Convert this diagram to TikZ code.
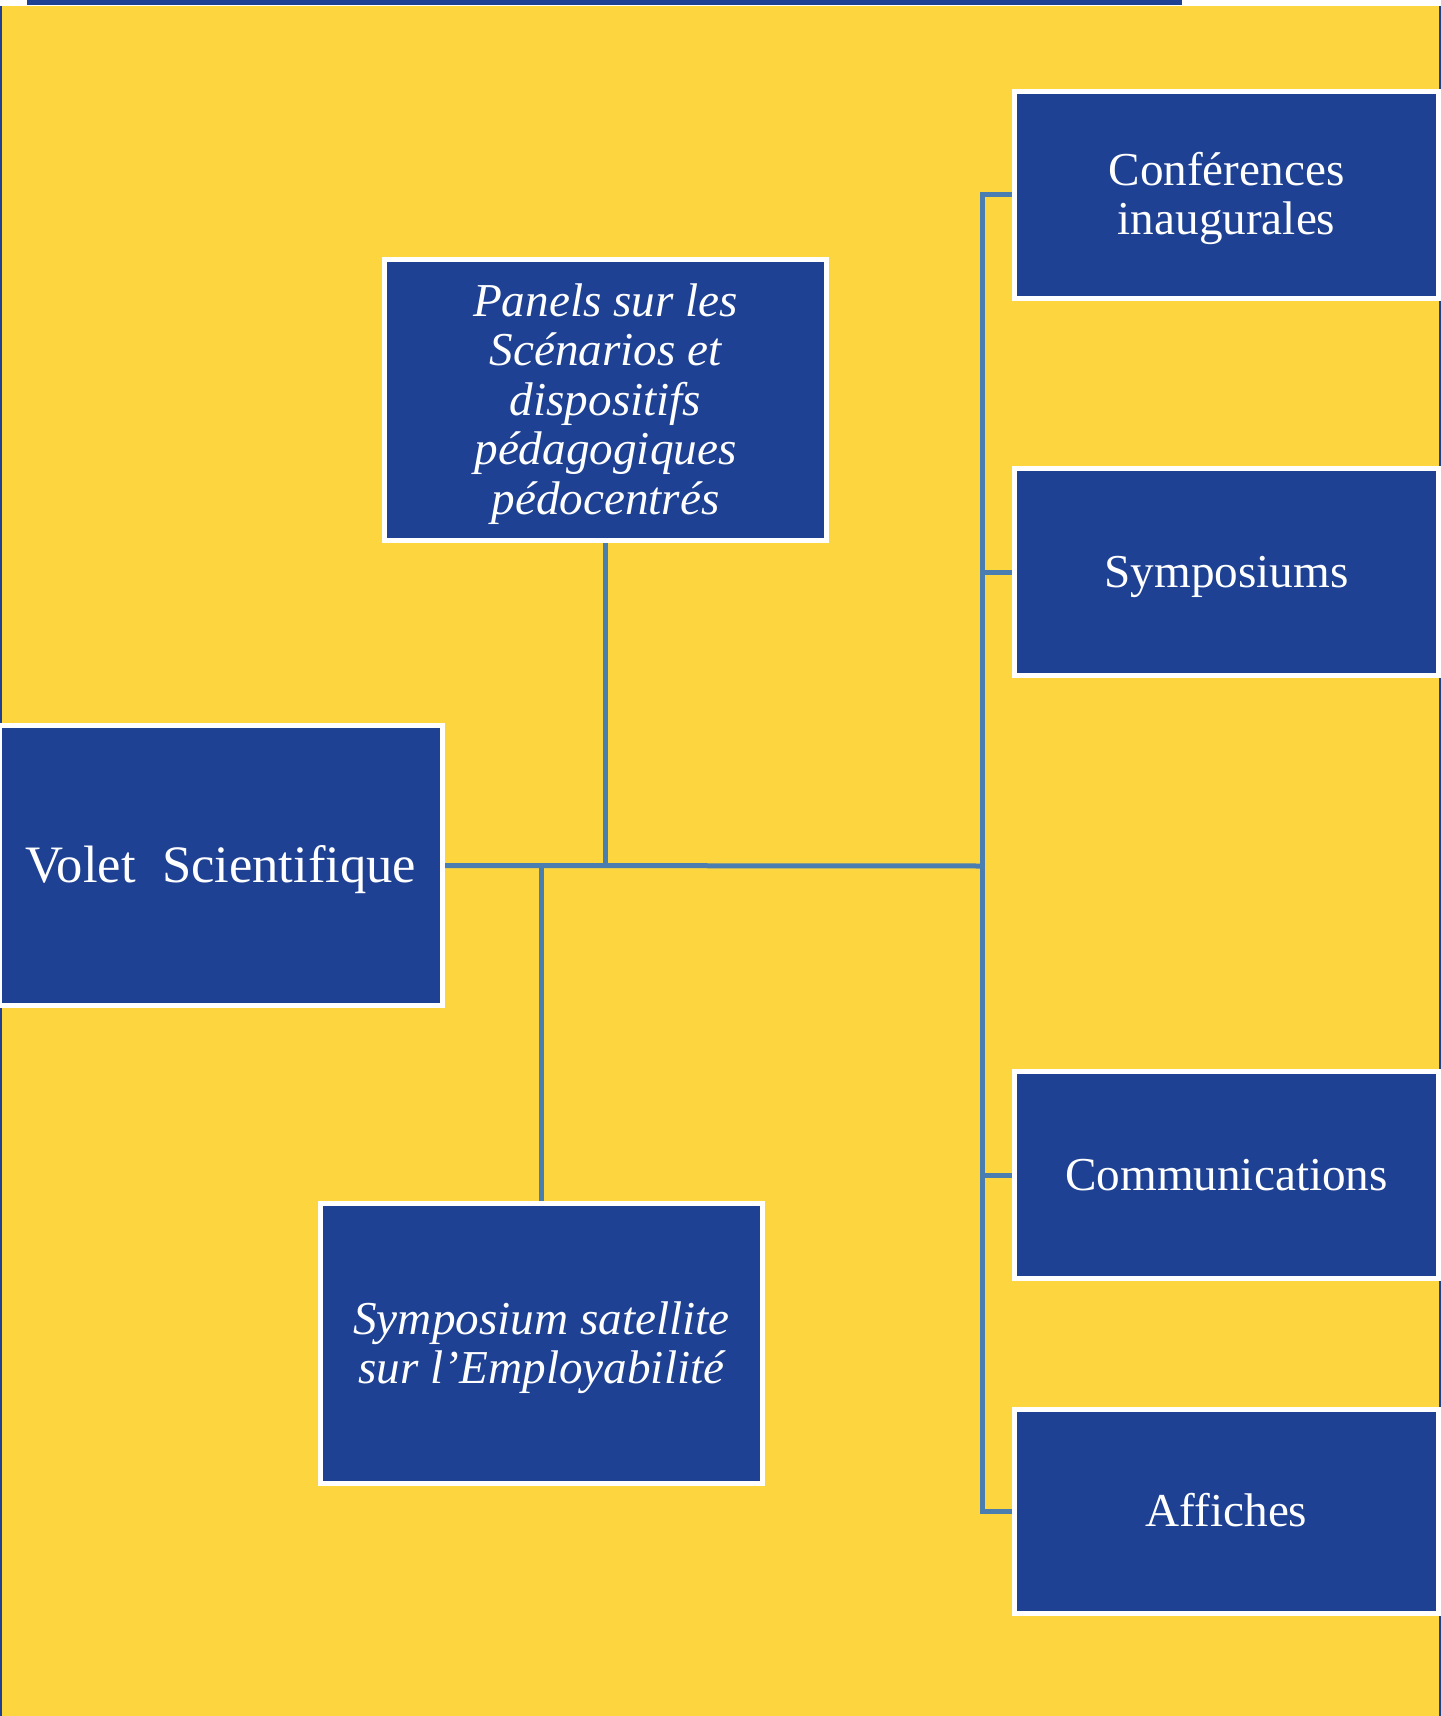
\documentclass[tikz,border=0pt]{standalone}
\usepackage{fontspec}
\setmainfont{Liberation Serif}
\usetikzlibrary{backgrounds}
\definecolor{bgyellow}{HTML}{FCD53F}
\definecolor{boxblue}{HTML}{1E4194}
\definecolor{linkblue}{HTML}{4A7EB0}
\newcommand\mytop{\rule{0pt}{22pt}}
\newcommand\mybot{\rule[-6.5pt]{0pt}{6.5pt}}
\begin{document}
\begin{tikzpicture}[x=0.5pt,y=-0.5pt,
  bx/.style={draw=white,line width=2.5pt,fill=boxblue,text=white,align=center,
    inner sep=0pt,font=\fontsize{23.6}{24.5}\selectfont},
  itbx/.style={bx,font=\fontsize{23.6}{24.75}\selectfont\itshape},
  rbx/.style={bx,minimum width=212pt,minimum height=103.5pt},
  conn/.style={draw=linkblue,line width=2.5pt}]
\useasboundingbox (0,0) rectangle (1440,1716);
% boxes
\node[bx,minimum width=221.5pt,minimum height=140pt,font=\fontsize{26.3}{27}\selectfont] (volet) at (221,865.5)
  {\rule{0pt}{23pt}Volet\ \ Scientifique\rule[-6.5pt]{0pt}{6.5pt}};
\node[itbx,minimum width=221pt,minimum height=140.5pt] (panels) at (605.5,400)
  {\mytop Panels sur les\\Scénarios et\\dispositifs\\pédagogiques\\pédocentrés\mybot};
\node[itbx,minimum width=221pt,minimum height=140pt] (sat) at (541.5,1343.5)
  {\mytop Symposium satellite\\sur l’Employabilité\mybot};
\node[rbx] (conf) at (1226.5,195) {\mytop Conférences\\inaugurales\mybot};
\node[rbx] (symp) at (1226.5,572) {\mytop Symposiums\mybot};
\node[rbx] (comm) at (1226.5,1175) {\mytop Communications\mybot};
\node[rbx,minimum height=102pt] (aff) at (1226.5,1511) {\mytop Affiches\mybot};
\coordinate (tr) at (982,866);
\begin{scope}[on background layer]
  \fill[white] (0,0) rectangle (1440,1716);
  \fill[bgyellow] (0,6.5) rectangle (1440,1716);
  \fill[boxblue] (27,0) rectangle (1182,5.5);
  \draw[boxblue,line width=1pt] (0.5,6) -- (0.5,1716);
  \draw[boxblue,line width=1pt] (1439.5,6) -- (1439.5,1716);
  \draw[conn] (volet.east) -- (tr);
  \draw[conn] (panels.south) -- (panels.south |- tr);
  \draw[conn] (sat.north) -- (sat.north |- tr);
  \draw[conn] (conf.west) -- (conf.west -| tr) -- (aff.west -| tr) -- (aff.west);
  \draw[conn] (symp.west) -- (symp.west -| tr);
  \draw[conn] (comm.west) -- (comm.west -| tr);
\end{scope}
\end{tikzpicture}
\end{document}
